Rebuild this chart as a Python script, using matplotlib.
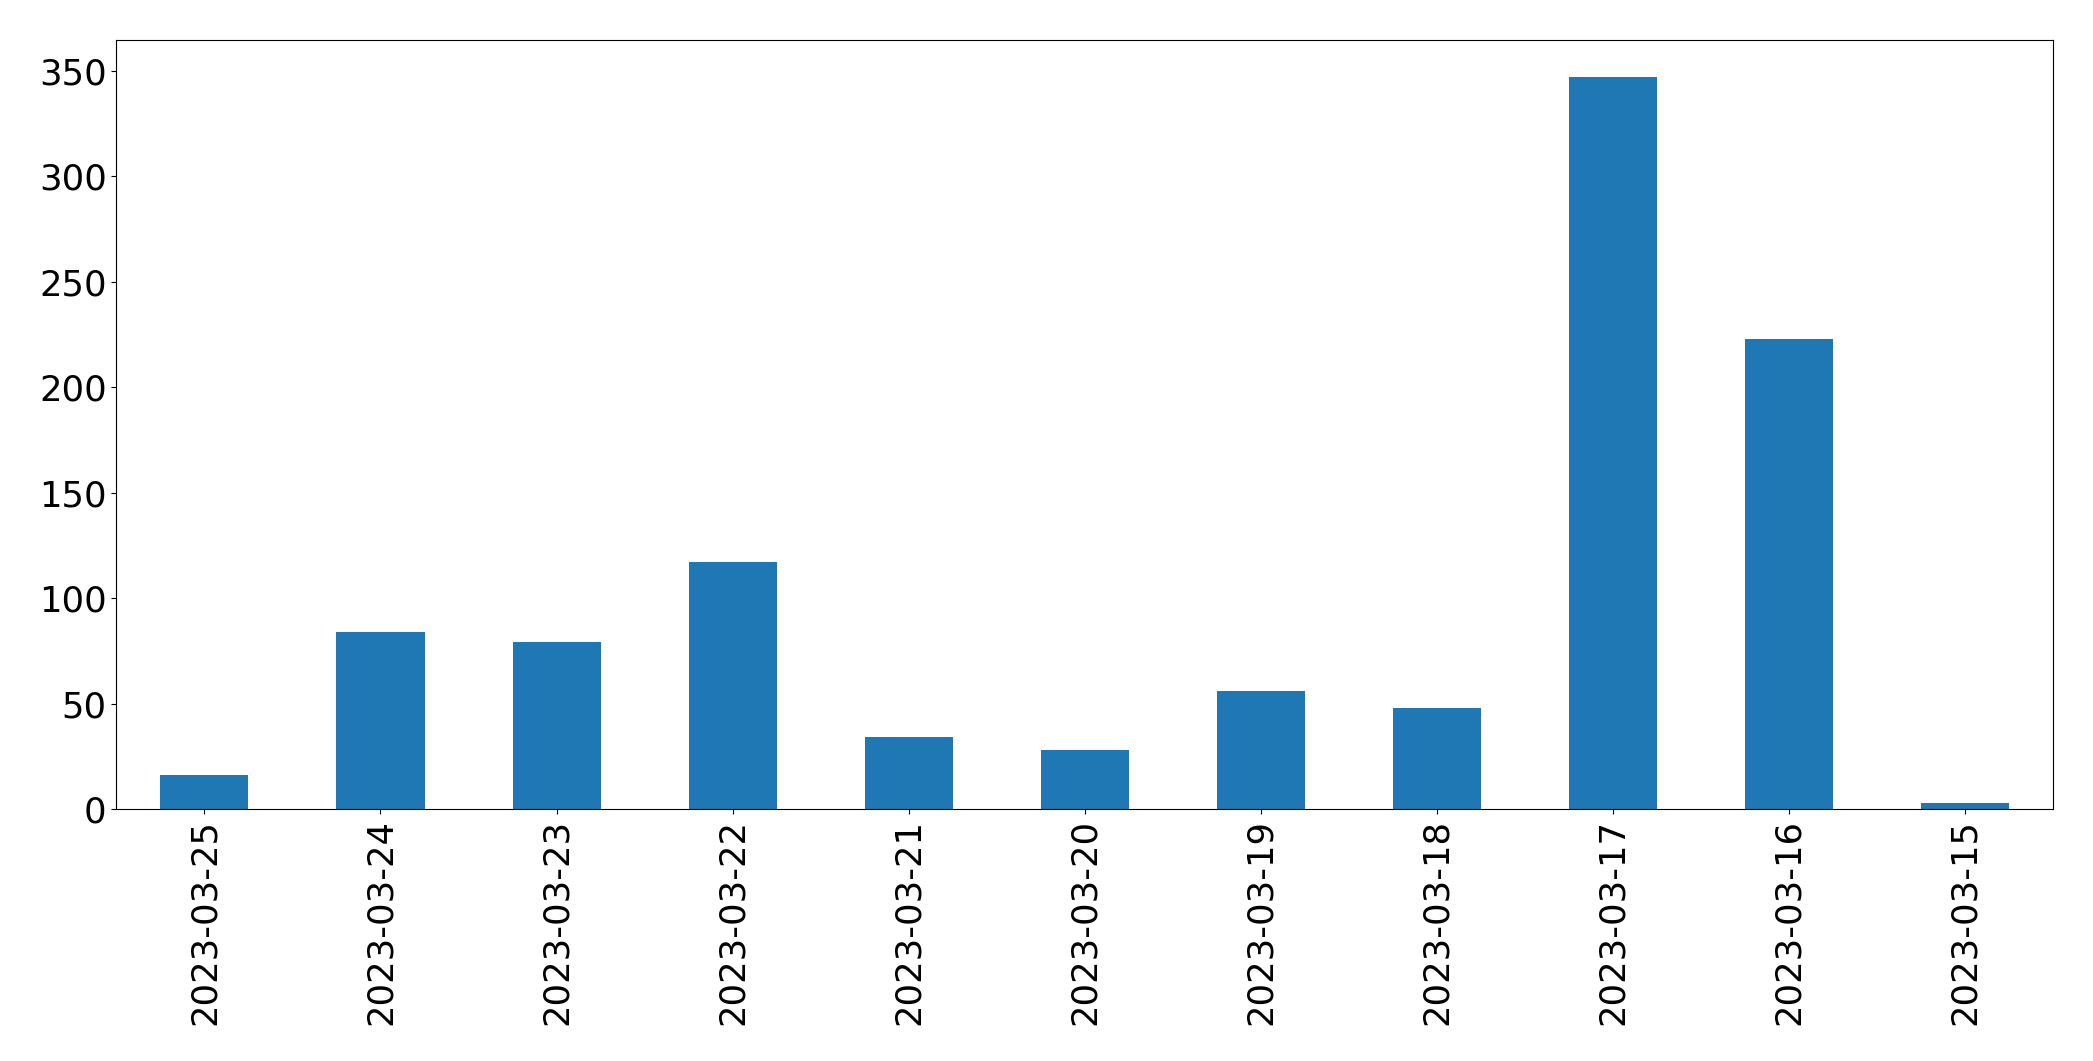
import matplotlib
matplotlib.use("Agg")
import matplotlib.pyplot as plt
import pandas as pd

dates = [
    "2023-03-25", "2023-03-24", "2023-03-23", "2023-03-22", "2023-03-21", "2023-03-20",
    "2023-03-19", "2023-03-18", "2023-03-17", "2023-03-16", "2023-03-15",
]
counts = [16, 84, 79, 117, 34, 28, 56, 48, 347, 223, 3]


def main() -> None:
    series = pd.Series(counts, index=dates)
    fig, ax = plt.subplots(figsize=(20.93, 10.61), dpi=100)
    series.plot(kind="bar", ax=ax, color="#1f77b4", width=0.5)
    ax.tick_params(axis="both", labelsize=25.5)
    ax.set_yticks([0, 50, 100, 150, 200, 250, 300, 350])
    fig.subplots_adjust(left=0.0556, right=0.981, top=0.962, bottom=0.2375)
    fig.savefig("out.png")
    plt.close(fig)


if __name__ == "__main__":
    main()
